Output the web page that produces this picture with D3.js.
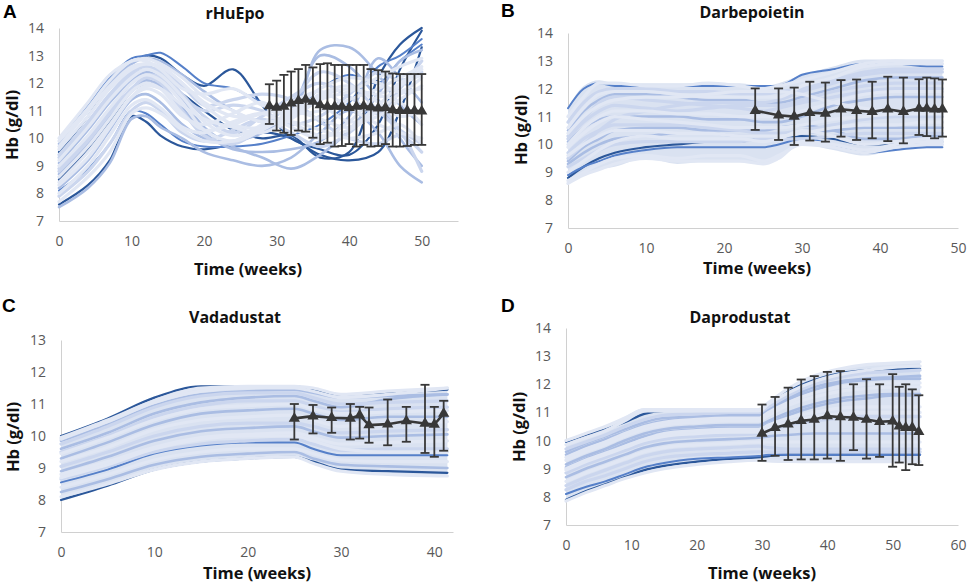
<!DOCTYPE html>
<html>
<head>
<meta charset="utf-8">
<script src="https://cdn.jsdelivr.net/npm/d3@7"></script>
<style>
  body { margin: 0; background: #fff; }
  svg { display: block; }
  text { font-family: "Open Sans", sans-serif; }
</style>
</head>
<body>
<svg id="chart" width="969" height="586"></svg>
<script>
// ---- panel A : rHuEpo ----
const aWeeks = [0, 4, 7, 10, 12, 14, 17, 20, 24, 28, 32, 36, 40, 44, 47, 50];
const aHb = [
  [9.9, 11.2, 12.2, 12.9, 13.0, 13.1, 12.6, 12.0, 11.8, 11.3, 11.0, 11.8, 12.3, 12.0, 12.8, 13.4],
  [9.5, 10.8, 11.9, 12.7, 13.0, 12.9, 12.3, 11.9, 12.5, 11.2, 10.0, 9.6, 9.4, 10.5, 12.5, 13.9],
  [10.0, 11.3, 12.3, 12.8, 12.9, 12.7, 12.2, 11.5, 11.0, 10.6, 10.8, 11.5, 11.8, 11.6, 12.0, 12.5],
  [9.7, 11.0, 11.9, 12.6, 12.7, 12.6, 12.0, 11.2, 10.5, 10.4, 11.0, 11.8, 12.2, 12.0, 11.7, 12.2],
  [9.4, 10.6, 11.6, 12.4, 12.6, 12.4, 11.6, 10.8, 10.2, 10.8, 11.5, 12.0, 11.5, 10.9, 11.8, 12.8],
  [9.2, 10.4, 11.4, 12.2, 12.5, 12.3, 11.5, 10.6, 10.1, 10.5, 11.3, 11.2, 10.6, 10.8, 11.4, 11.9],
  [9.0, 10.1, 11.1, 12.0, 12.3, 12.1, 11.3, 10.3, 9.9, 10.3, 10.9, 11.6, 11.9, 11.3, 10.8, 11.0],
  [8.8, 9.9, 10.9, 11.8, 12.2, 12.0, 11.0, 10.1, 9.8, 10.4, 11.3, 12.4, 12.0, 11.0, 10.3, 9.8],
  [8.6, 9.7, 10.7, 11.7, 12.0, 11.8, 10.9, 10.3, 10.5, 10.9, 11.0, 10.7, 10.4, 11.2, 11.9, 12.3],
  [8.4, 9.5, 10.5, 11.5, 11.8, 11.6, 10.8, 10.5, 10.9, 11.3, 10.6, 10.1, 10.3, 11.0, 11.6, 11.8],
  [8.2, 9.2, 10.3, 11.4, 11.6, 11.3, 10.5, 10.0, 9.9, 10.2, 11.0, 13.0, 12.6, 11.4, 10.0, 9.0],
  [8.0, 9.0, 10.1, 11.2, 11.4, 11.1, 10.4, 10.2, 10.6, 10.9, 10.4, 10.0, 10.6, 11.5, 11.3, 10.5],
  [7.9, 8.8, 9.8, 11.0, 11.3, 11.0, 10.2, 9.9, 10.3, 10.7, 10.2, 9.7, 10.2, 11.1, 10.3, 8.8],
  [7.6, 8.3, 9.2, 10.8, 10.6, 10.1, 9.7, 9.6, 9.8, 10.2, 10.0, 9.4, 9.2, 9.5, 11.0, 13.3],
  [8.1, 8.9, 9.8, 11.0, 10.9, 10.5, 9.9, 9.7, 9.7, 9.8, 10.1, 10.5, 11.3, 12.6, 13.0, 13.6],
  [7.5, 8.2, 9.1, 10.7, 10.8, 10.4, 10.0, 9.5, 9.2, 9.0, 9.3, 10.2, 11.0, 10.2, 9.0, 8.4],
  [9.1, 10.3, 11.3, 12.1, 12.4, 12.2, 11.4, 10.4, 9.7, 9.3, 8.9, 9.4, 10.3, 11.6, 12.8, 13.2],
  [9.8, 11.0, 12.0, 12.7, 12.9, 12.8, 12.3, 11.7, 11.0, 10.6, 10.8, 13.2, 13.3, 12.3, 11.2, 10.5],
  [8.5, 9.6, 10.6, 11.7, 12.0, 12.0, 11.6, 11.0, 10.3, 10.0, 10.1, 9.3, 9.5, 12.2, 13.4, 14.0],
  [9.6, 10.8, 11.8, 12.5, 12.7, 12.6, 12.0, 11.3, 10.8, 10.9, 11.3, 11.7, 11.1, 10.5, 10.2, 10.0],
  [9.3, 10.5, 11.5, 12.3, 12.5, 12.5, 11.9, 11.2, 11.4, 11.6, 11.4, 10.6, 10.0, 9.8, 10.1, 9.5],
  [8.3, 9.3, 10.4, 11.5, 11.9, 11.8, 11.2, 10.7, 10.4, 10.2, 10.7, 11.4, 11.7, 12.2, 12.6, 12.9],
  [8.7, 9.8, 10.8, 11.8, 12.1, 11.9, 11.1, 10.2, 9.6, 9.5, 9.6, 9.9, 10.8, 12.9, 12.2, 11.3],
  [9.9, 11.1, 12.1, 12.8, 12.8, 12.5, 11.8, 11.6, 11.8, 11.2, 10.9, 11.0, 11.4, 11.8, 12.2, 12.6],
  [8.9, 10.0, 11.0, 12.0, 12.3, 12.2, 11.5, 11.0, 11.2, 11.0, 10.5, 10.8, 11.6, 12.4, 12.1, 12.4],
  [7.7, 8.6, 9.5, 10.9, 11.1, 10.9, 10.3, 9.9, 9.9, 10.4, 10.6, 10.3, 10.0, 10.2, 10.5, 9.8]
];
const aTone = ['m','d','v','v','p','v','v','p','v','v','l','v','p','d','m','l','l','l','d','v','p','v','l','v','p','v'];
const aBarWeeks = [29, 30, 31, 32, 33, 34, 35, 36, 37, 38, 39, 40, 41, 42, 43, 44, 45, 46, 47, 48, 49, 50];
const aBarMean = [11.17, 11.12, 11.15, 11.27, 11.36, 11.41, 11.33, 11.21, 11.15, 11.15, 11.15, 11.11, 11.15, 11.17, 11.13, 11.09, 11.11, 11.03, 11.0, 11.0, 11.0, 10.98];
const aBarHi = [11.96, 12.09, 12.30, 12.42, 12.51, 12.66, 12.57, 12.69, 12.72, 12.66, 12.66, 12.66, 12.66, 12.66, 12.51, 12.47, 12.42, 12.35, 12.33, 12.33, 12.33, 12.33];
const aBarLo = [10.52, 10.28, 10.20, 10.12, 10.28, 10.24, 10.02, 9.79, 9.84, 9.70, 9.72, 9.79, 9.70, 9.76, 9.70, 9.72, 9.79, 9.70, 9.70, 9.72, 9.76, 9.76];

// ---- panel B : Darbepoietin ----
const bWeeks = [0, 2, 4, 6, 10, 14, 18, 22, 25, 27, 30, 34, 38, 42, 46, 48];
const bHb = [
  [11.3, 12.0, 12.2, 12.1, 12.1, 12.1, 12.1, 12.1, 12.1, 12.1, 12.5, 12.7, 12.9, 12.9, 12.8, 12.8],
  [11.0, 11.7, 12.2, 12.2, 12.1, 12.1, 12.2, 12.1, 12.0, 12.1, 12.3, 12.6, 12.9, 13.0, 13.0, 13.0],
  [10.8, 11.5, 11.9, 12.0, 12.0, 11.9, 11.9, 11.8, 11.8, 11.9, 12.0, 12.3, 12.6, 12.7, 12.7, 12.7],
  [10.5, 11.2, 11.6, 11.8, 11.8, 11.7, 11.6, 11.6, 11.5, 11.5, 11.7, 12.0, 12.3, 12.4, 12.4, 12.4],
  [10.4, 11.0, 11.4, 11.6, 11.7, 11.7, 11.8, 11.9, 11.9, 11.9, 11.8, 11.5, 11.3, 11.2, 11.3, 11.3],
  [10.2, 10.8, 11.2, 11.4, 11.3, 11.2, 11.3, 11.4, 11.4, 11.4, 11.6, 11.9, 12.1, 12.2, 12.2, 12.2],
  [10.0, 10.6, 11.0, 11.2, 11.2, 11.1, 11.1, 11.0, 11.0, 11.0, 11.2, 11.5, 11.8, 11.9, 11.9, 11.9],
  [10.1, 10.6, 10.9, 11.0, 11.0, 11.0, 10.9, 10.9, 10.8, 10.8, 11.0, 11.4, 11.6, 11.7, 11.7, 11.7],
  [9.9, 10.4, 10.8, 11.0, 10.9, 10.8, 10.7, 10.6, 10.6, 10.6, 10.7, 10.9, 11.0, 11.1, 11.1, 11.1],
  [9.7, 10.2, 10.5, 10.7, 10.7, 10.7, 10.6, 10.5, 10.4, 10.4, 10.5, 10.7, 10.9, 11.0, 11.0, 11.0],
  [9.6, 10.0, 10.3, 10.5, 10.5, 10.4, 10.4, 10.3, 10.3, 10.3, 10.4, 10.6, 10.7, 10.7, 10.8, 10.8],
  [9.3, 9.7, 10.0, 10.2, 10.3, 10.4, 10.4, 10.3, 10.3, 10.3, 10.4, 10.5, 10.6, 10.6, 10.6, 10.6],
  [9.2, 9.5, 9.8, 10.0, 10.1, 10.1, 10.1, 10.1, 10.2, 10.2, 10.2, 10.3, 10.4, 10.4, 10.4, 10.4],
  [8.8, 9.2, 9.5, 9.7, 9.9, 10.0, 10.1, 10.1, 10.2, 10.2, 10.3, 10.2, 10.0, 10.0, 10.1, 10.1],
  [8.9, 9.2, 9.4, 9.6, 9.8, 9.9, 9.9, 9.9, 9.9, 10.0, 10.2, 10.0, 9.7, 9.8, 9.9, 9.9],
  [8.7, 9.0, 9.3, 9.5, 9.6, 9.5, 9.6, 9.6, 9.4, 9.6, 10.0, 9.9, 9.7, 9.9, 10.0, 10.0],
  [8.6, 8.9, 9.1, 9.3, 9.5, 9.4, 9.4, 9.4, 9.3, 9.5, 10.1, 10.0, 9.8, 10.0, 10.1, 10.1],
  [9.5, 10.0, 10.5, 10.9, 11.2, 11.4, 11.5, 11.5, 11.5, 11.6, 11.9, 12.2, 12.5, 12.6, 12.6, 12.6],
  [10.6, 11.3, 11.8, 11.9, 11.9, 11.8, 11.7, 11.7, 11.7, 11.7, 12.1, 12.4, 12.8, 12.9, 12.9, 12.9],
  [9.4, 9.9, 10.2, 10.5, 10.6, 10.6, 10.5, 10.5, 10.5, 10.6, 10.7, 10.5, 10.2, 10.2, 10.3, 10.3],
  [9.0, 9.4, 9.8, 10.1, 10.3, 10.2, 10.2, 10.2, 10.1, 10.2, 10.5, 10.3, 10.0, 10.1, 10.2, 10.2],
  [10.3, 10.9, 11.5, 11.7, 11.6, 11.5, 11.4, 11.3, 11.2, 11.3, 11.5, 11.7, 11.9, 12.0, 12.0, 12.0]
];
const bTone = ['m','v','p','l','v','p','v','l','v','p','v','l','p','d','m','v','v','p','v','l','v','p'];
const bBandHi = [11.3, 12.1, 12.3, 12.2, 12.2, 12.2, 12.2, 12.2, 12.1, 12.2, 12.5, 12.8, 13.05, 13.05, 13.0, 13.0];
const bBandLo = [8.6, 8.9, 9.1, 9.2, 9.5, 9.3, 9.4, 9.4, 9.3, 9.5, 10.0, 9.8, 9.6, 9.8, 9.9, 9.9];
const bBarWeeks = [24, 27, 29, 31, 33, 35, 37, 39, 41, 43, 45, 46, 47, 48];
const bBarMean = [11.21, 11.05, 11.0, 11.14, 11.11, 11.26, 11.21, 11.17, 11.26, 11.17, 11.29, 11.29, 11.26, 11.26];
const bBarHi = [12.01, 12.01, 12.04, 12.25, 12.22, 12.31, 12.33, 12.25, 12.43, 12.40, 12.34, 12.40, 12.37, 12.33];
const bBarLo = [10.52, 10.16, 9.98, 10.14, 10.10, 10.28, 10.16, 10.22, 10.12, 10.04, 10.34, 10.30, 10.22, 10.28];

// ---- panel C : Vadadustat ----
const cWeeks = [0, 5, 10, 15, 20, 25, 27, 30, 35, 41.4];
const cHb = [
  [10.0, 10.55, 11.2, 11.55, 11.55, 11.55, 11.45, 11.3, 11.35, 11.45],
  [9.9, 10.45, 11.05, 11.4, 11.5, 11.5, 11.4, 11.2, 11.3, 11.5],
  [9.75, 10.3, 10.9, 11.25, 11.35, 11.35, 11.2, 11.0, 11.05, 11.1],
  [9.6, 10.1, 10.7, 11.05, 11.2, 11.25, 11.1, 10.9, 11.15, 11.3],
  [9.45, 9.95, 10.5, 10.85, 10.95, 11.0, 10.85, 10.7, 10.75, 10.8],
  [9.3, 9.8, 10.35, 10.7, 10.8, 10.85, 10.7, 10.5, 10.6, 10.6],
  [9.2, 9.65, 10.2, 10.5, 10.6, 10.65, 10.5, 10.3, 10.4, 10.45],
  [9.05, 9.5, 10.0, 10.3, 10.4, 10.4, 10.3, 10.1, 10.15, 10.2],
  [8.9, 9.35, 9.85, 10.15, 10.25, 10.3, 10.15, 9.95, 10.0, 10.05],
  [8.8, 9.2, 9.65, 9.95, 10.05, 10.1, 9.95, 9.75, 9.8, 9.85],
  [8.65, 9.05, 9.5, 9.75, 9.85, 9.9, 9.75, 9.55, 9.6, 9.6],
  [8.55, 8.95, 9.45, 9.7, 9.8, 9.8, 9.6, 9.4, 9.4, 9.4],
  [8.4, 8.8, 9.25, 9.5, 9.6, 9.6, 9.45, 9.25, 9.2, 9.2],
  [8.25, 8.65, 9.1, 9.35, 9.45, 9.5, 9.3, 9.1, 9.05, 9.0],
  [8.0, 8.45, 8.95, 9.2, 9.3, 9.35, 9.2, 8.95, 8.9, 8.85],
  [8.1, 8.5, 8.95, 9.2, 9.3, 9.35, 9.15, 8.9, 8.8, 8.75],
  [9.95, 10.5, 11.1, 11.5, 11.55, 11.55, 11.5, 11.3, 11.4, 11.5],
  [9.5, 10.0, 10.6, 10.95, 11.1, 11.1, 10.95, 10.75, 10.85, 10.9],
  [8.7, 9.1, 9.6, 9.9, 10.0, 10.0, 9.85, 9.6, 9.5, 9.5],
  [9.85, 10.35, 10.95, 11.3, 11.4, 11.45, 11.35, 11.2, 11.25, 11.3]
];
const cTone = ['d','v','p','l','v','l','v','p','l','v','p','m','v','l','d','v','v','p','v','l'];
const cBandHi = [10.0, 10.55, 11.2, 11.55, 11.58, 11.58, 11.5, 11.3, 11.4, 11.52];
const cBandLo = [8.0, 8.45, 8.95, 9.2, 9.3, 9.35, 9.15, 8.9, 8.8, 8.75];
const cBarWeeks = [25, 27, 29, 31, 32, 33, 35, 37, 39, 40, 41];
const cBarMean = [10.55, 10.62, 10.57, 10.55, 10.65, 10.34, 10.37, 10.47, 10.39, 10.36, 10.70];
const cBarHi = [11.0, 10.97, 10.89, 11.0, 10.91, 10.89, 11.14, 10.91, 11.60, 10.91, 11.10];
const cBarLo = [9.89, 10.08, 10.10, 9.89, 9.92, 9.79, 9.71, 9.82, 9.47, 9.35, 9.54];

// ---- panel D : Daprodustat ----
const dWeeks = [0, 3, 6, 9, 12, 15, 20, 25, 29.5, 31, 34, 38, 42, 46, 50, 54.2];
const dHb = [
  [9.95, 10.2, 10.4, 10.65, 10.95, 11.05, 11.05, 11.05, 11.05, 11.3, 11.75, 12.15, 12.4, 12.5, 12.55, 12.55],
  [10.0, 10.25, 10.5, 10.8, 11.1, 11.1, 11.1, 11.1, 11.1, 11.35, 11.85, 12.3, 12.55, 12.7, 12.75, 12.8],
  [9.7, 9.95, 10.2, 10.5, 10.75, 10.9, 10.95, 11.0, 11.0, 11.2, 11.6, 12.0, 12.25, 12.4, 12.45, 12.5],
  [9.5, 9.8, 10.05, 10.3, 10.55, 10.7, 10.8, 10.85, 10.85, 11.05, 11.45, 11.8, 12.05, 12.15, 12.2, 12.2],
  [9.3, 9.6, 9.85, 10.15, 10.4, 10.55, 10.65, 10.7, 10.7, 10.9, 11.25, 11.55, 11.75, 11.85, 11.9, 11.9],
  [9.15, 9.45, 9.7, 10.0, 10.25, 10.4, 10.5, 10.55, 10.55, 10.7, 11.0, 11.3, 11.5, 11.6, 11.65, 11.65],
  [9.0, 9.3, 9.55, 9.8, 10.05, 10.25, 10.35, 10.4, 10.4, 10.55, 10.8, 11.0, 11.15, 11.2, 11.2, 11.2],
  [8.85, 9.15, 9.4, 9.65, 9.9, 10.05, 10.15, 10.2, 10.25, 10.35, 10.55, 10.7, 10.8, 10.85, 10.85, 10.85],
  [8.7, 9.0, 9.25, 9.5, 9.75, 9.9, 10.0, 10.05, 10.1, 10.15, 10.2, 10.25, 10.25, 10.25, 10.25, 10.25],
  [8.55, 8.85, 9.1, 9.35, 9.6, 9.75, 9.85, 9.9, 9.95, 9.95, 9.95, 9.95, 9.95, 9.95, 9.95, 9.95],
  [8.4, 8.7, 8.95, 9.2, 9.45, 9.6, 9.7, 9.75, 9.8, 9.75, 9.7, 9.7, 9.7, 9.7, 9.7, 9.7],
  [8.1, 8.35, 8.55, 8.8, 9.05, 9.2, 9.35, 9.4, 9.45, 9.5, 9.5, 9.5, 9.5, 9.5, 9.5, 9.5],
  [7.9, 8.2, 8.45, 8.7, 8.95, 9.1, 9.25, 9.35, 9.4, 9.45, 9.5, 9.5, 9.5, 9.5, 9.5, 9.5],
  [7.85, 8.15, 8.4, 8.65, 8.85, 9.0, 9.15, 9.25, 9.3, 9.28, 9.26, 9.25, 9.25, 9.25, 9.25, 9.25],
  [9.85, 10.1, 10.35, 10.7, 11.05, 11.05, 11.05, 11.05, 11.05, 11.3, 11.7, 12.1, 12.35, 12.5, 12.6, 12.65],
  [9.6, 9.9, 10.15, 10.4, 10.65, 10.8, 10.85, 10.9, 10.9, 11.1, 11.5, 11.9, 12.1, 12.2, 12.25, 12.3],
  [8.95, 9.25, 9.5, 9.75, 10.0, 10.15, 10.25, 10.3, 10.3, 10.45, 10.65, 10.85, 10.95, 11.0, 11.0, 11.0],
  [8.25, 8.55, 8.75, 9.0, 9.25, 9.4, 9.5, 9.55, 9.6, 9.6, 9.6, 9.6, 9.6, 9.6, 9.6, 9.6],
  [9.4, 9.7, 9.95, 10.25, 10.5, 10.65, 10.75, 10.8, 10.8, 11.0, 11.35, 11.7, 11.9, 12.0, 12.05, 12.05],
  [9.05, 9.35, 9.6, 9.9, 10.15, 10.3, 10.4, 10.45, 10.45, 10.6, 10.9, 11.2, 11.4, 11.5, 11.6, 11.6]
];
const dTone = ['d','v','p','l','v','l','v','p','l','v','p','m','d','v','v','l','v','p','v','l'];
const dBandHi = [10.0, 10.25, 10.5, 10.85, 11.15, 11.12, 11.1, 11.1, 11.1, 11.35, 11.85, 12.3, 12.55, 12.7, 12.78, 12.82];
const dBandLo = [7.85, 8.15, 8.4, 8.65, 8.85, 9.0, 9.15, 9.25, 9.3, 9.25, 9.22, 9.22, 9.22, 9.22, 9.22, 9.22];
const dBarWeeks = [30, 32, 34, 36, 38, 40, 42, 44, 46, 48, 50, 51, 52, 53, 54];
const dBarMean = [10.25, 10.46, 10.58, 10.70, 10.75, 10.87, 10.84, 10.82, 10.75, 10.67, 10.69, 10.51, 10.46, 10.46, 10.31];
const dBarHi = [11.28, 11.55, 11.88, 12.17, 12.29, 12.44, 12.47, 12.0, 12.18, 12.0, 12.36, 11.91, 12.0, 11.82, 11.61];
const dBarLo = [9.28, 9.46, 9.31, 9.33, 9.33, 9.36, 9.28, 9.66, 9.36, 9.42, 9.07, 9.22, 8.95, 9.16, 9.13];

// tone -> stroke colour / width; drawn darkest first so pale lines partly cover them
const toneColor = { d: '#2b579a', m: '#5680c9', l: '#aabde3', p: '#cbd6ee', v: '#e1e7f4' };
const toneWidth = { d: 2.2, m: 2.0, l: 2.6, p: 3.2, v: 3.2 };
const toneOrder = 'dmlpv';
const bandFill = '#dae2f1';
const barColor = '#383838';

const panels = [
  { letter: 'A', title: 'rHuEpo', weeks: aWeeks, hb: aHb, tone: aTone, bandHi: null, bandLo: null,
    bar: { w: aBarWeeks, m: aBarMean, hi: aBarHi, lo: aBarLo },
    xMax: 55, xTicks: [0, 10, 20, 30, 40, 50], yMin: 7, yMax: 14,
    left: 59, right: 458, top: 28, bottom: 221, curve: d3.curveCatmullRom.alpha(0.5),
    letterPos: [3, 18], titlePos: [235, 19], yTitlePos: [12, 125], xTitlePos: [248, 275] },
  { letter: 'B', title: 'Darbepoietin', weeks: bWeeks, hb: bHb, tone: bTone, bandHi: bBandHi, bandLo: bBandLo,
    bar: { w: bBarWeeks, m: bBarMean, hi: bBarHi, lo: bBarLo },
    xMax: 50, xTicks: [0, 10, 20, 30, 40, 50], yMin: 7, yMax: 14,
    left: 568, right: 958, top: 33, bottom: 228, curve: d3.curveMonotoneX,
    letterPos: [501, 17], titlePos: [752, 18], yTitlePos: [521, 130], xTitlePos: [757, 274] },
  { letter: 'C', title: 'Vadadustat', weeks: cWeeks, hb: cHb, tone: cTone, bandHi: cBandHi, bandLo: cBandLo,
    bar: { w: cBarWeeks, m: cBarMean, hi: cBarHi, lo: cBarLo },
    xMax: 42, xTicks: [0, 10, 20, 30, 40], yMin: 7, yMax: 13,
    left: 61, right: 453, top: 340, bottom: 532, curve: d3.curveMonotoneX,
    letterPos: [2, 312], titlePos: [235, 323], yTitlePos: [13, 437], xTitlePos: [257, 579] },
  { letter: 'D', title: 'Daprodustat', weeks: dWeeks, hb: dHb, tone: dTone, bandHi: dBandHi, bandLo: dBandLo,
    bar: { w: dBarWeeks, m: dBarMean, hi: dBarHi, lo: dBarLo },
    xMax: 60, xTicks: [0, 10, 20, 30, 40, 50, 60], yMin: 7, yMax: 14,
    left: 566, right: 958, top: 328, bottom: 525, curve: d3.curveMonotoneX,
    letterPos: [501, 312], titlePos: [740, 323], yTitlePos: [519, 427], xTitlePos: [762, 579] }
];

const svg = d3.select('#chart');

function drawPanel(p) {
  const x = d3.scaleLinear().domain([0, p.xMax]).range([p.left, p.right]);
  const y = d3.scaleLinear().domain([p.yMin, p.yMax]).range([p.bottom, p.top]);
  const g = svg.append('g');

  // axes
  const yAxis = g.append('g').attr('transform', `translate(${p.left},0)`)
    .call(d3.axisLeft(y).tickValues(d3.range(p.yMin, p.yMax + 1)).tickSize(0).tickPadding(15).tickFormat(d3.format('d')));
  const xAxis = g.append('g').attr('transform', `translate(0,${p.bottom})`)
    .call(d3.axisBottom(x).tickValues(p.xTicks).tickSize(0).tickPadding(15).tickFormat(d3.format('d')));
  [yAxis, xAxis].forEach(a => {
    a.select('.domain').attr('stroke', '#d0d0d0');
    a.selectAll('text').attr('fill', '#595959').style('font-size', '14px').style('font-family', '"Open Sans", sans-serif');
  });

  // envelope of simulated patients
  if (p.bandHi) {
    const area = d3.area().curve(p.curve)
      .x((d, i) => x(p.weeks[i])).y0((d, i) => y(p.bandLo[i])).y1(d => y(d));
    g.append('path').datum(p.bandHi).attr('d', area).attr('fill', bandFill);
  }

  // individual trajectories
  const rows = p.hb.map((v, i) => ({ v: v, t: p.tone[i] }))
    .sort((a, b) => toneOrder.indexOf(a.t) - toneOrder.indexOf(b.t));
  const line = d3.line().curve(p.curve).x((d, i) => x(p.weeks[i])).y(d => y(d));
  g.append('g').selectAll('path').data(rows).enter().append('path')
    .attr('d', d => line(d.v))
    .attr('fill', 'none')
    .attr('stroke', d => toneColor[d.t])
    .attr('stroke-width', d => toneWidth[d.t])
    .attr('stroke-linecap', 'round');

  // observed mean +/- SD
  const b = p.bar;
  const eb = g.append('g').attr('stroke', barColor).attr('stroke-width', 1.8);
  b.w.forEach((w, i) => {
    const cx = x(w);
    eb.append('line').attr('x1', cx).attr('x2', cx).attr('y1', y(b.lo[i])).attr('y2', y(b.hi[i]));
    eb.append('line').attr('x1', cx - 4.5).attr('x2', cx + 4.5).attr('y1', y(b.lo[i])).attr('y2', y(b.lo[i]));
    eb.append('line').attr('x1', cx - 4.5).attr('x2', cx + 4.5).attr('y1', y(b.hi[i])).attr('y2', y(b.hi[i]));
  });
  const meanLine = d3.line().x((d, i) => x(b.w[i])).y(d => y(d));
  g.append('path').datum(b.m).attr('d', meanLine)
    .attr('fill', 'none').attr('stroke', barColor).attr('stroke-width', 2.6);
  g.append('g').selectAll('path').data(b.m).enter().append('path')
    .attr('d', d3.symbol().type(d3.symbolTriangle).size(55))
    .attr('transform', (d, i) => `translate(${x(b.w[i])},${y(d)})`)
    .attr('fill', barColor);

  // labels
  g.append('text').attr('x', p.letterPos[0]).attr('y', p.letterPos[1])
    .style('font-family', '"Liberation Sans", Arial, sans-serif')
    .style('font-weight', 'bold').style('font-size', '19px').text(p.letter);
  g.append('text').attr('x', p.titlePos[0]).attr('y', p.titlePos[1]).attr('text-anchor', 'middle')
    .style('font-weight', 'bold').style('font-size', '16px').attr('fill', '#111').text(p.title);
  g.append('text').attr('transform', `translate(${p.yTitlePos[0]},${p.yTitlePos[1]}) rotate(-90)`)
    .attr('text-anchor', 'middle').attr('dy', '0.35em')
    .style('font-weight', 'bold').style('font-size', '16.5px').attr('fill', '#111').text('Hb (g/dl)');
  g.append('text').attr('x', p.xTitlePos[0]).attr('y', p.xTitlePos[1]).attr('text-anchor', 'middle')
    .style('font-weight', 'bold').style('font-size', '16.5px').attr('fill', '#111').text('Time (weeks)');
}

panels.forEach(drawPanel);
</script>
</body>
</html>
